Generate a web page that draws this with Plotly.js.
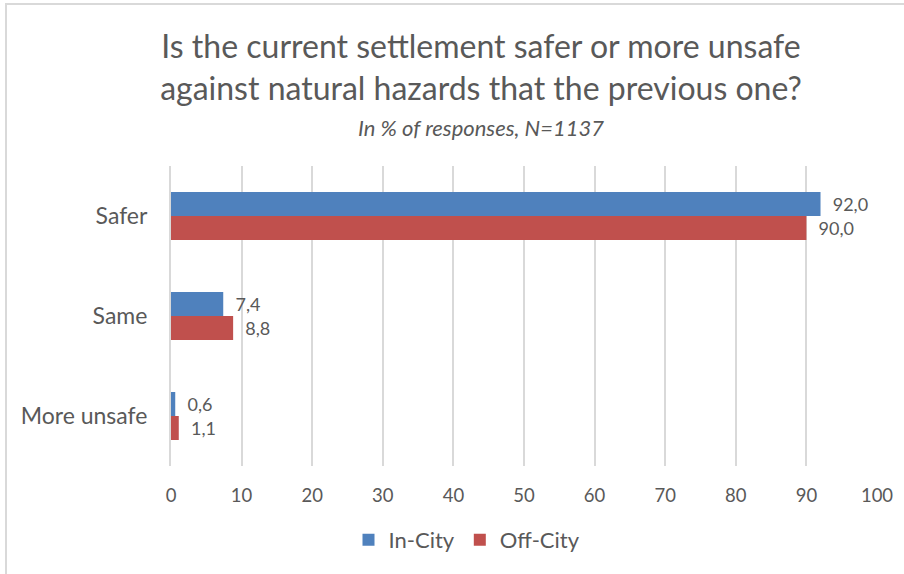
<!DOCTYPE html>
<html>
<head>
<meta charset="utf-8">
<script src="https://cdn.plot.ly/plotly-3.0.1.min.js"></script>
<style>
html,body{margin:0;padding:0;background:#fff;}
#wrap{position:relative;width:904px;height:574px;overflow:hidden;}
#chart{position:absolute;left:0;top:0;width:904px;height:574px;}
#frame{position:absolute;left:5px;top:3px;width:910px;height:600px;border-top:2px solid #d9d9d9;border-left:2px solid #d9d9d9;pointer-events:none;}
</style>
</head>
<body>
<div id="wrap"><div id="chart"></div><div id="frame"></div></div>
<script>
var categories = ["Safer", "Same", "More unsafe"];
var seriesNames = ["In-City", "Off-City"];
var inCity = [92.0, 7.4, 0.6];
var offCity = [90.0, 8.8, 1.1];
var colors = ["#4F81BD", "#C0504D"];
var xTicks = [0, 10, 20, 30, 40, 50, 60, 70, 80, 90, 100];

var FONT = "Lato, 'Open Sans', sans-serif";
var GREY = "#595959";

function barTrace(name, vals, color) {
  return {
    type: "bar",
    orientation: "h",
    name: name,
    y: categories,
    x: vals,
    marker: {color: color},
    texttemplate: "  %{x:.1f}",
    textposition: "outside",
    cliponaxis: false,
    textfont: {family: FONT, size: 18, color: GREY},
    hoverinfo: "x+name"
  };
}

var data = [
  barTrace(seriesNames[0], inCity, colors[0]),
  barTrace(seriesNames[1], offCity, colors[1])
];

var layout = {
  width: 904,
  height: 574,
  separators: ", ",
  paper_bgcolor: "rgba(0,0,0,0)",
  plot_bgcolor: "rgba(0,0,0,0)",
  margin: {l: 171, r: 27, t: 166, b: 108, pad: 0},
  barmode: "group",
  bargap: 0.52,
  bargroupgap: 0,
  font: {family: FONT, color: GREY},
  title: {
    text: "Is the current settlement safer or more unsafe<br>against natural hazards that the previous one?",
    font: {family: FONT, size: 32, color: GREY},
    x: 481 / 904,
    xanchor: "center",
    xref: "container",
    y: 1 - 58 / 574,
    yanchor: "middle",
    yref: "container"
  },
  annotations: [{
    text: "<i>In % of responses, N=1137</i>",
    xref: "paper", yref: "paper",
    x: (481 - 171) / 706,
    y: 1 + (166 - 128) / 300,
    xanchor: "center", yanchor: "middle",
    showarrow: false,
    font: {family: FONT, size: 22, color: GREY}
  }],
  xaxis: {
    range: [0, 100],
    tickvals: xTicks,
    ticktext: xTicks.map(String),
    showgrid: true,
    gridcolor: "#d9d9d9",
    gridwidth: 2,
    zeroline: false,
    showline: false,
    ticks: "outside",
    ticklen: 13,
    tickcolor: "rgba(0,0,0,0)",
    tickfont: {family: FONT, size: 18.5, color: GREY},
    fixedrange: true
  },
  yaxis: {
    type: "category",
    autorange: "reversed",
    showgrid: false,
    zeroline: false,
    showline: true,
    linecolor: "#d9d9d9",
    linewidth: 2,
    ticks: "outside",
    ticklen: 17,
    tickcolor: "rgba(0,0,0,0)",
    tickfont: {family: FONT, size: 23, color: GREY},
    fixedrange: true
  },
  showlegend: true,
  legend: {
    orientation: "h",
    xref: "container",
    yref: "container",
    x: 467 / 904,
    xanchor: "center",
    y: 1 - 540 / 574,
    yanchor: "middle",
    font: {family: FONT, size: 22, color: GREY},
    itemwidth: 30,
    traceorder: "normal"
  }
};

Plotly.newPlot("chart", data, layout, {displayModeBar: false, staticPlot: true});
</script>
</body>
</html>
